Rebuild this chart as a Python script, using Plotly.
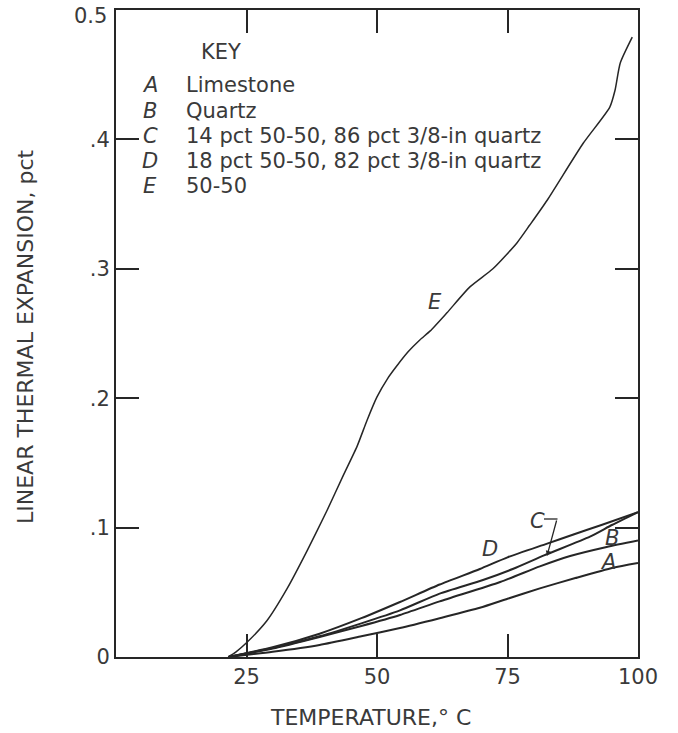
import plotly.graph_objects as go

# ---------------- data ----------------
temp_A = [21.5, 30, 39, 47, 54.4, 62, 69.7, 75, 81.2, 88, 95.2, 100]
exp_A = [0, 0.004, 0.0093, 0.016, 0.0224, 0.030, 0.038, 0.045, 0.053, 0.061, 0.069, 0.0727]

temp_B = [21.5, 30, 39, 47, 54.4, 62, 73.6, 81.2, 87, 94, 100]
exp_B = [0, 0.0065, 0.0155, 0.024, 0.0325, 0.043, 0.058, 0.070, 0.078, 0.085, 0.090]

temp_C = [21.5, 30, 39, 47, 54.4, 62, 70.3, 76, 82, 90.8, 95, 100]
exp_C = [0, 0.007, 0.016, 0.026, 0.036, 0.049, 0.0595, 0.068, 0.0785, 0.093, 0.102, 0.112]

temp_D = [21.5, 30, 39, 47, 54.4, 62, 69.7, 75, 82.6, 87.5, 93, 100]
exp_D = [0, 0.0075, 0.018, 0.030, 0.0425, 0.056, 0.068, 0.077, 0.0876, 0.0945, 0.102, 0.112]

temp_E = [21.5, 23, 25, 28.9, 32.8, 36.6, 40.4, 43.5, 46.2, 48.1, 50.0, 52, 54, 56, 58.2, 60.2,
          63.4, 67.8, 72.2, 76.8, 79.3, 82.6, 89.5, 94.6, 95.6, 96.6, 98.9]
exp_E = [0, 0.004, 0.011, 0.028, 0.053, 0.082, 0.113, 0.140, 0.163, 0.183, 0.201, 0.215, 0.226,
         0.236, 0.245, 0.252, 0.266, 0.286, 0.300, 0.320, 0.334, 0.353, 0.397, 0.425, 0.438,
         0.459, 0.479]

x_tickvals = [25, 50, 75, 100]
x_ticktext = ["25", "50", "75", "100"]
y_tickvals = [0, 0.1, 0.2, 0.3, 0.4, 0.5]
y_ticktext = ["0", ".1", ".2", ".3", ".4", ""]
y_top_label = "0.5"

key_letters = ["A", "B", "C", "D", "E"]
key_names = ["Limestone", "Quartz", "14 pct 50-50, 86 pct 3/8-in quartz",
             "18 pct 50-50, 82 pct 3/8-in quartz", "50-50"]

# ---------------- figure ----------------
W, H = 678, 733
L, R, T, B = 116, 40, 10, 76
pw, ph = W - L - R, H - T - B

def P(px, py):
    return (px - L) / pw, (T + ph - py) / ph

FONT = "DejaVu Sans"
TXT = "#3a3a3a"
LINE = "#262626"
KS = 21

fig = go.Figure()
series = [(temp_A, exp_A, 2.0), (temp_B, exp_B, 2.0), (temp_C, exp_C, 2.0),
          (temp_D, exp_D, 2.0), (temp_E, exp_E, 1.5)]
for xs, ys, w in series:
    fig.add_trace(go.Scatter(x=xs, y=ys, mode="lines",
                             line=dict(color=LINE, width=w, shape="spline", smoothing=0.6),
                             showlegend=False, hoverinfo="skip"))

ann = []
# top y tick label (kept inside the page)
tx, ty = P(109, 16)
ann.append(dict(x=tx, y=ty, xref="paper", yref="paper", text=y_top_label, showarrow=False,
                font=dict(size=21, family=FONT, color=TXT), xanchor="right", yanchor="middle"))

# KEY block
kx, ky = P(221, 52)
ann.append(dict(x=kx, y=ky, xref="paper", yref="paper", text="KEY", showarrow=False,
                font=dict(size=KS, family=FONT, color=TXT), xanchor="center", yanchor="middle"))
rows_y = [85, 111, 136, 161, 186]
for letter, name, ry in zip(key_letters, key_names, rows_y):
    lx, ly = P(150, ry)
    ann.append(dict(x=lx, y=ly, xref="paper", yref="paper", text="<i>" + letter + "</i>",
                    showarrow=False, font=dict(size=KS, family=FONT, color=TXT),
                    xanchor="center", yanchor="middle"))
    tx, ty = P(184, ry)
    ann.append(dict(x=tx, y=ty, xref="paper", yref="paper", text=name, showarrow=False,
                    font=dict(size=KS, family=FONT, color=TXT), xanchor="left", yanchor="middle"))

# curve labels
for letter, (px, py) in zip(["E", "D", "C", "B", "A"],
                            [(435, 302), (490, 549), (537, 521), (612, 538), (608, 562)]):
    lx, ly = P(px, py)
    ann.append(dict(x=lx, y=ly, xref="paper", yref="paper", text="<i>" + letter + "</i>",
                    showarrow=False, font=dict(size=KS, family=FONT, color=TXT),
                    xanchor="center", yanchor="middle"))

# axis titles
tx, ty = P(370, 718)
ann.append(dict(x=tx, y=ty, xref="paper", yref="paper", text="TEMPERATURE,° C", showarrow=False,
                font=dict(size=22, family=FONT, color=TXT), xanchor="center", yanchor="middle"))
tx, ty = P(25, 337)
ann.append(dict(x=tx, y=ty, xref="paper", yref="paper", text="LINEAR THERMAL EXPANSION, pct",
                showarrow=False, textangle=-90,
                font=dict(size=22, family=FONT, color=TXT), xanchor="center", yanchor="middle"))

# C bracket arrow
hx, hy = P(547, 556)
ann.append(dict(x=hx, y=hy, xref="paper", yref="paper", text="", showarrow=True,
                ax=10, ay=-37, arrowhead=2, arrowsize=0.8, arrowwidth=1.3,
                arrowcolor=LINE, standoff=0, startstandoff=0))
x0, y0 = P(544, 519)
x1, y1 = P(557.5, 519)
shapes = [dict(type="line", xref="paper", yref="paper", x0=x0, y0=y0, x1=x1, y1=y1,
               line=dict(color=LINE, width=1.3))]

fig.update_layout(
    width=W, height=H,
    margin=dict(l=L, r=R, t=T, b=B, autoexpand=False),
    paper_bgcolor="white", plot_bgcolor="white",
    font=dict(family=FONT, color=TXT),
    annotations=ann, shapes=shapes,
    xaxis=dict(range=[0, 100], tickvals=x_tickvals, ticktext=x_ticktext,
               ticks="inside", ticklen=23, tickwidth=1.5, tickcolor=LINE,
               showline=True, linewidth=2, linecolor=LINE, mirror="ticks",
               showgrid=False, zeroline=False, automargin=False, ticklabeloverflow="allow",
               tickfont=dict(size=21, family=FONT, color=TXT)),
    yaxis=dict(range=[0, 0.5], tickvals=y_tickvals, ticktext=y_ticktext,
               ticks="inside", ticklen=23, tickwidth=1.5, tickcolor=LINE,
               showline=True, linewidth=2, linecolor=LINE, mirror="ticks",
               showgrid=False, zeroline=False, automargin=False, ticklabeloverflow="allow",
               tickfont=dict(size=21, family=FONT, color=TXT)),
)

fig.write_html("out.html", config={"displayModeBar": False},
               post_script="document.body.style.margin='0';document.body.style.overflow='hidden';")
